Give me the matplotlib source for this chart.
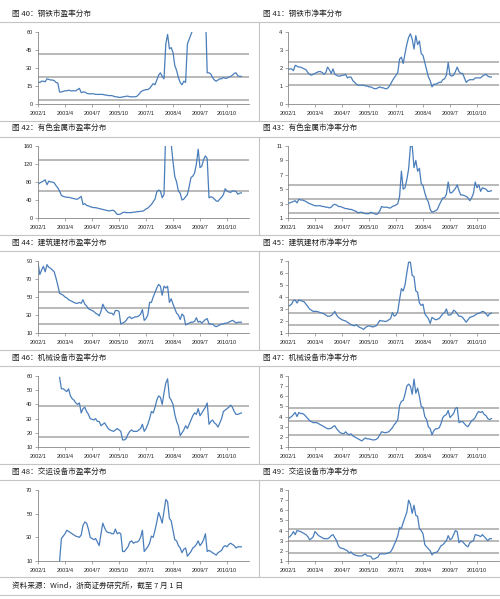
import numpy as np
import matplotlib
matplotlib.use("Agg")
import matplotlib.pyplot as plt
from matplotlib.lines import Line2D

nan = np.nan

# x axis: months since 2002/1
tick_months = [0, 15, 30, 45, 60, 75, 90, 105]
tick_labels = ["2002/1", "2003/4", "2004/7", "2005/10", "2007/1", "2008/4", "2009/7", "2010/10"]

# monthly values, one row per year (2002 ... 2011/6)
steel_pe = [
    18, 18, 19, 19, 18.5, 21, 20.5, 20, 20, 19.5, 18, 17.5,
    10, 10, 10.5, 11, 11, 11.5, 11, 11, 11, 11, 12, 13,
    9.5, 10, 10, 9, 8.5, 8.5, 8.5, 8.5, 8, 8, 8, 8,
    8, 7.5, 7.5, 7, 7, 7, 6.5, 6, 6, 5.5, 5.5, 6,
    6, 6.5, 6.5, 6, 6, 6, 6, 6.5, 8, 10, 11, 11.5,
    12, 12, 13, 15, 17, 16, 20, 24, 26, 23, 21, 50,
    58, 46, 47, 43, 32, 28, 22, 18, 16, 19, 18, 50,
    54, 58, 62, 75, 95, 110, 120, 110, 95, 80, 26, 26,
    25, 22, 20, 19, 20, 21, 21, 22, 21.5, 21.5, 22.5, 23,
    24, 25.5, 26, 23.5, 23, 23,
]
steel_pb = [
    1.9, 1.95, 1.95, 1.85, 2.15, 2.1, 2.05, 2.05, 2.0, 1.95, 1.9, 1.75,
    1.65, 1.6, 1.65, 1.7, 1.75, 1.8, 1.8, 1.75, 1.65, 1.75, 2.05, 1.9,
    1.7, 1.95, 1.65, 1.6, 1.55, 1.55, 1.6, 1.6, 1.65, 1.45, 1.5, 1.5,
    1.3, 1.2, 1.1, 1.05, 1.05, 1.05, 1.05, 1.0, 1.0, 0.95, 0.95, 0.9,
    0.85, 0.85, 0.9, 0.95, 0.9, 0.9, 0.85, 0.85, 0.95, 1.1, 1.3, 1.45,
    1.6, 1.75, 2.5, 2.6, 2.25, 2.8, 3.3, 3.7, 3.9, 3.6, 3.05, 3.8,
    3.3, 3.5, 2.8, 2.7, 2.3, 1.9, 1.5, 1.3, 0.95, 1.1, 1.1, 1.15,
    1.2, 1.2, 1.35, 1.4, 1.6, 2.3, 1.6, 1.55, 1.6, 1.8, 2.05, 1.8,
    1.7, 1.7, 1.45, 1.2, 1.3, 1.35, 1.35, 1.35, 1.45, 1.45, 1.45, 1.45,
    1.55, 1.6, 1.65, 1.55, 1.5, 1.5,
]
nonferrous_pe = [
    75, 78, 80, 82, 85, 74, 82, 80, 80, 78, 72, 67,
    60, 50, 48, 47, 46, 46, 45, 44, 43, 42, 42, 45,
    48, 30, 32, 28, 27, 25, 24, 23, 23, 22, 21, 20,
    19, 18, 17, 16, 16, 17, 17, 13, 8, 8, 9, 12,
    13, 12, 12, 12, 12, 13, 13, 14, 14, 15, 15, 17,
    20, 22, 26, 30, 36, 42, 58, 62, 60, 45, 52, 200,
    260, 230, 165, 125, 92, 80, 60, 55, 40, 42, 47, 52,
    70, 90, 93, 100, 120, 153, 112, 115, 130, 138, 132, 45,
    47, 46, 42, 38, 37, 42, 46, 52, 65, 60, 58, 57,
    60, 60, 59, 53, 55, 56,
]
nonferrous_pb = [
    3.0, 3.1, 3.2, 3.3, 3.4, 3.1, 3.6, 3.5, 3.5, 3.4, 3.3, 3.1,
    3.0, 2.9, 2.8, 2.7, 2.7, 2.7, 2.7, 2.6, 2.6, 2.5, 2.5, 2.4,
    2.5, 2.8, 2.9, 2.8, 2.6, 2.6, 2.5, 2.4, 2.3, 2.3, 2.2, 2.2,
    2.1, 2.0, 1.9, 1.7, 1.8, 1.8, 1.7, 1.6, 1.6, 1.6, 1.8, 1.7,
    1.6, 1.5, 1.6, 2.0, 2.6, 2.5, 2.5, 2.5, 2.4, 2.4, 2.6, 2.7,
    2.8, 3.0, 4.0, 7.5, 5.0, 5.2, 6.3, 7.8, 10.9, 11.0, 8.0, 9.0,
    7.5, 7.9, 5.8, 5.5, 4.5, 3.7, 3.2, 2.2, 1.8, 1.9, 2.0, 2.2,
    2.8, 3.3, 3.8, 3.8, 4.3, 6.0, 4.5, 4.5, 4.8, 5.1, 5.6, 4.8,
    4.2, 4.2, 4.1, 4.0, 3.8, 3.4, 3.8, 4.4, 6.0, 5.2, 5.6, 4.7,
    5.2, 5.1, 5.0, 4.7, 4.7, 4.8,
]
building_pe = [
    88, 75, 80, 84, 78, 86, 83, 82, 80, 78, 71, 63,
    54, 53, 52, 50, 49, 47, 46, 45, 44, 43, 43, 44,
    43, 47, 42, 40, 37, 36, 35, 34, 32, 31, 29, 34,
    42, 38, 35, 33, 32, 32, 30, 35, 35, 34, 20, 21,
    22, 24, 27, 28, 26, 27, 28, 28, 29, 31, 36, 24,
    26, 30, 44, 44, 50, 55, 60, 64, 62, 52, 62, 60,
    62, 44, 48, 42, 37, 32, 30, 25, 31, 29, 19, 20,
    21, 22, 22, 23, 27, 22, 23, 21, 23, 25, 26, 20,
    20, 20, 18, 17, 18, 19, 20, 20, 21, 21, 22, 23,
    24, 23, 21, 22, 22, 22,
]
building_pb = [
    3.2, 3.3, 3.4, 3.7, 3.75, 3.5, 3.75, 3.7, 3.65, 3.6, 3.4, 3.2,
    3.0, 2.9, 2.8, 2.8, 2.8, 2.75, 2.7, 2.65, 2.6, 2.5, 2.4, 2.4,
    2.45, 2.6, 2.8, 2.5, 2.3, 2.2, 2.1, 2.05, 2.0, 1.9, 1.8, 1.7,
    1.65, 1.6, 1.7, 1.55, 1.45, 1.4, 1.3, 1.45, 1.55, 1.6, 1.55, 1.5,
    1.55, 1.6, 1.8, 2.05, 2.0, 2.0, 1.95, 2.0, 2.1, 2.2, 2.7, 2.4,
    2.5, 2.8, 3.8, 4.7, 4.5, 5.0, 6.0, 6.9, 6.9, 5.8, 5.7, 4.5,
    4.4, 3.5, 3.3, 3.4, 2.6, 2.4, 2.2, 1.8, 2.3, 2.2, 2.1, 2.15,
    2.2, 2.4, 2.6, 2.7, 3.0, 2.5, 2.5, 2.6, 2.9, 2.8, 2.6, 2.4,
    2.4, 2.3, 2.1, 1.9, 2.1, 2.3, 2.35, 2.4, 2.5, 2.6, 2.65, 2.7,
    2.8, 2.75, 2.6, 2.4, 2.6, 2.65,
]
machinery_pe = [
    nan, nan, nan, nan, nan, nan, nan, nan, nan, nan, nan, nan,
    59, 51, 51, 50, 49, 51, 46, 44, 43, 41, 40, 41,
    34, 37, 38, 35, 33, 30, 29.5, 29, 30, 28, 28, 25,
    26, 27, 25, 23, 22, 21.5, 21, 22, 23, 22, 21, 15,
    15, 16, 19, 21, 22, 21, 21, 21, 22, 23, 26, 21,
    23, 26, 30, 35, 34, 38, 43, 46, 45, 40, 48, 55,
    58, 45, 43, 40, 33, 28, 25, 18, 20, 22, 25, 23,
    26, 29, 32, 34, 33, 37, 32, 34, 36, 38, 41, 26,
    28, 29, 27, 26, 24, 27, 30, 35, 36, 37, 38, 39.5,
    38, 35, 33, 33, 33.5, 34,
]
machinery_pb = [
    3.7, 3.9, 4.0, 4.2, 4.4, 4.0, 4.4, 4.3, 4.3, 4.2, 4.0, 3.8,
    3.6, 3.5, 3.4, 3.4, 3.4, 3.3, 3.2, 3.1, 3.0, 2.9, 2.8, 2.8,
    2.85, 3.0, 3.1, 2.8, 2.6, 2.4, 2.35, 2.3, 2.5, 2.3, 2.2, 2.3,
    2.1, 2.0, 1.9, 1.8, 1.7, 1.6, 1.75, 1.9, 1.8, 1.8, 1.75, 1.7,
    1.7, 1.75, 1.9, 2.2, 2.5, 2.45, 2.4, 2.45, 2.5, 2.7, 2.9, 3.2,
    3.4, 3.7, 5.1, 5.5, 5.6, 6.2, 7.0, 7.2, 7.0, 6.2, 7.7, 6.3,
    6.8, 6.0, 5.0, 4.9, 4.0, 3.7, 3.0, 2.8, 2.2, 2.6, 2.8, 2.8,
    2.9, 3.3, 3.9, 4.1, 4.2, 4.6, 3.9, 4.1, 4.3, 4.8, 4.9, 3.4,
    3.5, 3.5, 3.3, 3.1, 3.0, 3.3, 3.6, 3.7, 3.9, 4.3, 4.5, 4.4,
    4.5, 4.2, 4.1, 3.8, 3.7, 3.8,
]
transport_pe = [
    nan, nan, nan, nan, nan, nan, nan, nan, nan, nan, nan, nan,
    10, 29, 31, 33, 36, 35, 34, 33, 32, 31, 30.5, 30,
    32, 40, 43, 42, 37, 30, 29, 28, 29, 26, 23, 33,
    42, 38, 35, 34, 34, 33, 33, 37, 33, 34, 33, 18,
    18, 20, 22, 26, 27, 25, 26, 26, 27, 30, 36, 18,
    20, 22, 25, 31, 30, 36, 43, 51, 47, 42, 52, 62,
    60, 46, 44, 36, 28, 27, 23, 21, 17, 20, 21, 14,
    16, 18, 21, 22, 24, 27, 23, 25, 28, 33, 18, 19,
    18, 17, 16, 15, 17, 18, 19, 22, 23, 22, 24, 25,
    24, 23, 21, 22, 22, 22,
]
transport_pb = [
    3.3, 3.4, 3.6, 3.9, 3.6, 4.0, 3.95, 3.9, 3.8, 3.7, 3.6, 3.4,
    3.1, 3.2, 3.4, 3.9, 3.7, 3.5, 3.4, 3.3, 3.2, 3.2, 3.2, 3.3,
    3.5, 3.6, 3.3, 3.0, 2.5, 2.3, 2.25, 2.2, 2.1, 2.0, 1.8, 1.9,
    1.7, 1.6, 1.55, 1.5, 1.5, 1.5, 1.6, 1.7, 1.5, 1.5, 1.45, 1.2,
    1.2, 1.3, 1.4, 1.7, 1.7, 1.7, 1.7, 1.75, 1.8, 1.9, 2.2, 2.6,
    3.0, 3.5, 4.3, 4.2, 4.8, 5.3, 5.8, 7.0, 6.6, 5.7, 6.5, 5.5,
    5.4, 4.2, 4.0, 3.7, 2.6, 2.4, 2.2, 2.0, 1.6, 1.8, 1.85, 1.9,
    2.2, 2.5, 2.6, 2.8, 3.0, 3.5, 3.1, 3.2, 3.6, 4.0, 3.9, 2.8,
    3.0, 2.9, 2.7, 2.5, 2.4, 2.8, 2.9, 3.0, 3.6, 3.55, 3.5, 3.4,
    3.6, 3.4, 3.2, 3.0, 3.2, 3.2,
]

# grey reference lines (mean / +-std)
steel_pe_ref = [41.5, 22.5, 3.3]
steel_pb_ref = [2.32, 1.68, 1.04]
nonferrous_pe_ref = [128, 60]
nonferrous_pb_ref = [5.59, 3.66, 1.69]
building_pe_ref = [55.6, 38.1, 20.4]
building_pb_ref = [3.78, 2.67, 1.68]
machinery_pe_ref = [38.6, 16.7]
machinery_pb_ref = [4.81, 3.54, 2.2]
transport_pe_ref = []
transport_pb_ref = [4.16, 3.0, 1.74]

titles = [
    "图 40：钢铁市盈率分布", "图 41：钢铁市净率分布",
    "图 42：有色金属市盈率分布", "图 43：有色金属市净率分布",
    "图 44：建筑建材市盈率分布", "图 45：建筑建材市净率分布",
    "图 46：机械设备市盈率分布", "图 47：机械设备市净率分布",
    "图 48：交运设备市盈率分布", "图 49：交运设备市净率分布",
]
footer = "资料来源：Wind，浙商证券研究所，截至 7 月 1 日"

panels = [
    (steel_pe, steel_pe_ref, [0, 15, 30, 45, 60]),
    (steel_pb, steel_pb_ref, [0, 1, 2, 3, 4]),
    (nonferrous_pe, nonferrous_pe_ref, [0, 40, 80, 120, 160]),
    (nonferrous_pb, nonferrous_pb_ref, [1, 3, 5, 7, 9, 11]),
    (building_pe, building_pe_ref, [10, 30, 50, 70, 90]),
    (building_pb, building_pb_ref, [1, 2, 3, 4, 5, 6, 7]),
    (machinery_pe, machinery_pe_ref, [10, 20, 30, 40, 50, 60]),
    (machinery_pb, machinery_pb_ref, [1, 2, 3, 4, 5, 6, 7, 8]),
    (transport_pe, transport_pe_ref, [10, 30, 50, 70]),
    (transport_pb, transport_pb_ref, [1, 2, 3, 4, 5, 6, 7, 8]),
]

W, H = 500, 599
LINE_BLUE = "#4a7ebb"
REF_GREY = "#a6a6a6"
SEP_GREY = "#c4c4c4"
CJK = ["Noto Sans CJK SC", "DejaVu Sans"]

row_tops = [32, 146, 261, 376, 490]
row_bottoms = [104, 218, 333, 447, 561]
title_ys = [14, 129, 243, 358, 472]
col_x0 = [38, 288]
col_title_x = [12, 263]
px_per_month = 1.8
xmax = 117

fig = plt.figure(figsize=(W / 100, H / 100), dpi=100)
fig.patch.set_facecolor("white")


def fx(x):
    return x / W


def fy(y):
    return 1 - y / H


def sep_line(x0, y0, x1, y1):
    fig.add_artist(Line2D([fx(x0), fx(x1)], [fy(y0), fy(y1)],
                          transform=fig.transFigure, color=SEP_GREY, lw=0.8))


for i, (vals, refs, yticks) in enumerate(panels):
    row, col = divmod(i, 2)
    x0 = col_x0[col]
    top, bottom = row_tops[row], row_bottoms[row]
    ax = fig.add_axes([fx(x0), fy(bottom), xmax * px_per_month / W, (bottom - top) / H])

    for r in refs:
        ax.axhline(r, color=REF_GREY, lw=1.1, zorder=1)
    ax.plot(np.arange(len(vals)), vals, color=LINE_BLUE, lw=0.9, zorder=3)

    ax.set_xlim(0, xmax)
    ax.set_ylim(yticks[0], yticks[-1])
    ax.set_yticks(yticks)
    ax.set_xticks(tick_months)
    ax.set_xticklabels(tick_labels)
    for s in ("top", "right"):
        ax.spines[s].set_visible(False)
    for s in ("left", "bottom"):
        ax.spines[s].set_color("#868686")
        ax.spines[s].set_linewidth(0.6)
        ax.spines[s].set_zorder(4)
    ax.tick_params(axis="both", labelsize=4, length=2, width=0.5, color="#868686",
                   labelcolor="#222222")
    ax.tick_params(axis="y", pad=2)
    ax.tick_params(axis="x", pad=3)
    for lab in ax.get_xticklabels() + ax.get_yticklabels():
        lab.set_family("Liberation Sans")

    fig.text(fx(col_title_x[col]), fy(title_ys[row]), titles[i], fontsize=5.5,
             family=CJK, va="center", ha="left", color="#222222")

# frame lines around the title strips and between the two columns
for row, ty in enumerate(title_ys):
    if row > 0:
        sep_line(0, ty - 8, W, ty - 8)
    sep_line(0, ty + 8, W, ty + 8)
    seg_end = title_ys[row + 1] - 8 if row < 4 else 577
    sep_line(259, ty + 8, 259, seg_end)

sep_line(0, 577, W, 577)
sep_line(0, 595, W, 595)
fig.text(fx(12), fy(586), footer, fontsize=5.5, family=CJK, va="center", ha="left",
         color="#222222")

fig.savefig("out.png", dpi=100)
